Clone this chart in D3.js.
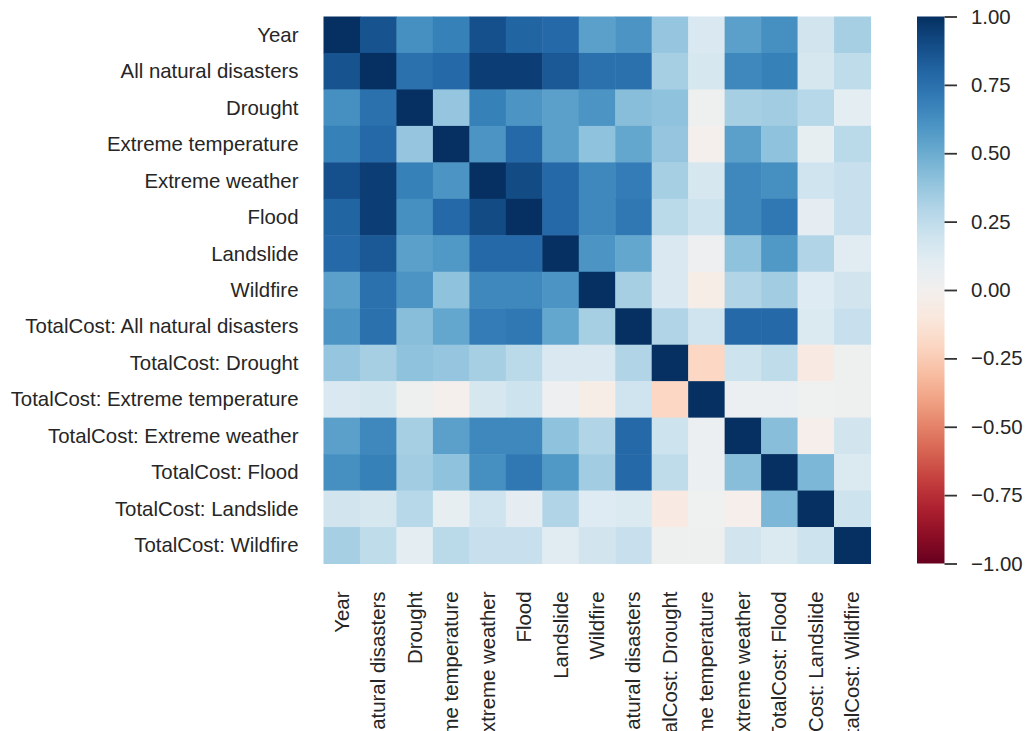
<!DOCTYPE html>
<html>
<head>
<meta charset="utf-8">
<script src="https://cdn.jsdelivr.net/npm/d3@7"></script>
<style>
  body { margin: 0; background: #fff; }
  svg { display: block; }
  text { font-family: "Liberation Sans", Arial, sans-serif; fill: #262626; }
</style>
</head>
<body>
<div id="chart"></div>
<script>
var width = 1028, height = 731;

var labels = ["Year", "All natural disasters", "Drought", "Extreme temperature",
  "Extreme weather", "Flood", "Landslide", "Wildfire", "TotalCost: All natural disasters",
  "TotalCost: Drought", "TotalCost: Extreme temperature", "TotalCost: Extreme weather",
  "TotalCost: Flood", "TotalCost: Landslide", "TotalCost: Wildfire"];

// correlation rows
var rowYear       = [1.00, 0.87, 0.62, 0.68, 0.88, 0.80, 0.78, 0.55, 0.60, 0.38, 0.15, 0.55, 0.62, 0.18, 0.33];
var rowAll        = [0.87, 1.00, 0.75, 0.78, 0.95, 0.95, 0.85, 0.75, 0.75, 0.33, 0.16, 0.65, 0.68, 0.16, 0.25];
var rowDrought    = [0.62, 0.75, 1.00, 0.38, 0.68, 0.60, 0.55, 0.60, 0.42, 0.40, 0.03, 0.33, 0.35, 0.28, 0.10];
var rowTemp       = [0.68, 0.78, 0.38, 1.00, 0.60, 0.78, 0.55, 0.40, 0.52, 0.38, -0.02, 0.55, 0.40, 0.08, 0.27];
var rowWeather    = [0.88, 0.95, 0.68, 0.60, 1.00, 0.90, 0.78, 0.65, 0.70, 0.33, 0.16, 0.65, 0.62, 0.19, 0.22];
var rowFlood      = [0.80, 0.95, 0.62, 0.78, 0.90, 1.00, 0.78, 0.65, 0.72, 0.27, 0.20, 0.65, 0.72, 0.09, 0.22];
var rowLandslide  = [0.78, 0.85, 0.55, 0.58, 0.78, 0.78, 1.00, 0.60, 0.52, 0.15, 0.04, 0.40, 0.58, 0.30, 0.11];
var rowWildfire   = [0.55, 0.75, 0.60, 0.40, 0.65, 0.65, 0.60, 1.00, 0.33, 0.15, -0.05, 0.30, 0.35, 0.12, 0.18];
var rowTcAll      = [0.60, 0.75, 0.42, 0.52, 0.70, 0.72, 0.52, 0.33, 1.00, 0.30, 0.19, 0.78, 0.78, 0.14, 0.22];
var rowTcDrought  = [0.38, 0.33, 0.40, 0.38, 0.33, 0.27, 0.15, 0.15, 0.30, 1.00, -0.20, 0.20, 0.25, -0.08, 0.03];
var rowTcTemp     = [0.15, 0.16, 0.03, -0.02, 0.16, 0.20, 0.04, -0.05, 0.19, -0.20, 1.00, 0.05, 0.05, 0.02, 0.03];
var rowTcWeather  = [0.55, 0.65, 0.33, 0.55, 0.65, 0.65, 0.40, 0.30, 0.78, 0.20, 0.05, 1.00, 0.42, -0.03, 0.18];
var rowTcFlood    = [0.62, 0.68, 0.35, 0.40, 0.62, 0.72, 0.58, 0.35, 0.78, 0.25, 0.05, 0.42, 1.00, 0.45, 0.14];
var rowTcLandslide= [0.18, 0.16, 0.28, 0.08, 0.19, 0.09, 0.30, 0.12, 0.14, -0.08, 0.02, -0.03, 0.45, 1.00, 0.20];
var rowTcWildfire = [0.33, 0.25, 0.10, 0.27, 0.22, 0.22, 0.11, 0.18, 0.22, 0.03, 0.03, 0.18, 0.14, 0.20, 1.00];

var matrix = [rowYear, rowAll, rowDrought, rowTemp, rowWeather, rowFlood, rowLandslide,
  rowWildfire, rowTcAll, rowTcDrought, rowTcTemp, rowTcWeather, rowTcFlood, rowTcLandslide, rowTcWildfire];

var cbarTicks = [1, 0.75, 0.5, 0.25, 0, -0.25, -0.5, -0.75, -1];

var hm = { left: 323.5, top: 16.5, size: 547 };
var fontSize = "20.4px";

var svg = d3.select("#chart")
  .append("svg")
  .attr("width", width)
  .attr("height", height);

var x = d3.scaleBand().domain(labels).range([hm.left, hm.left + hm.size]);
var y = d3.scaleBand().domain(labels).range([hm.top, hm.top + hm.size]);

var color = d3.scaleSequential(t => d3.interpolateRdBu(t)).domain([-1, 1]);

// flatten the matrix into cells
var cells = [];
matrix.forEach((row, i) => {
  row.forEach((v, j) => {
    cells.push({ row: labels[i], col: labels[j], value: v });
  });
});

svg.append("g")
  .selectAll("rect")
  .data(cells)
  .enter()
  .append("rect")
  .attr("x", d => x(d.col))
  .attr("y", d => y(d.row))
  .attr("width", x.bandwidth() + 0.5)
  .attr("height", y.bandwidth() + 0.5)
  .attr("fill", d => color(d.value));

// y tick labels
svg.append("g")
  .selectAll("text")
  .data(labels)
  .enter()
  .append("text")
  .attr("x", hm.left - 25)
  .attr("y", d => y(d) + y.bandwidth() / 2)
  .attr("text-anchor", "end")
  .attr("dominant-baseline", "central")
  .style("font-size", fontSize)
  .text(d => d);

// x tick labels, rotated (long ones run off the bottom, as in the original)
svg.append("g")
  .selectAll("text")
  .data(labels)
  .enter()
  .append("text")
  .attr("transform", d => "translate(" + (x(d) + x.bandwidth() / 2) + "," + (hm.top + hm.size + 28) + ") rotate(-90)")
  .attr("text-anchor", "end")
  .attr("dominant-baseline", "central")
  .style("font-size", fontSize)
  .text(d => d);

// colorbar
var cb = { left: 917, width: 27.5 };
var cbScale = d3.scaleLinear().domain([1, -1]).range([hm.top, hm.top + hm.size]);

var defs = svg.append("defs");
var grad = defs.append("linearGradient")
  .attr("id", "cbar")
  .attr("x1", "0").attr("y1", "1")
  .attr("x2", "0").attr("y2", "0");
d3.range(0, 1.0001, 0.05).forEach(t => {
  grad.append("stop")
    .attr("offset", t)
    .attr("stop-color", d3.interpolateRdBu(t));
});

svg.append("rect")
  .attr("x", cb.left)
  .attr("y", hm.top)
  .attr("width", cb.width)
  .attr("height", hm.size)
  .attr("fill", "url(#cbar)");

var cbAxis = d3.axisRight(cbScale)
  .tickValues(cbarTicks)
  .tickSize(12.5)
  .tickPadding(14)
  .tickFormat(d => d3.format(".2f")(d).replace("-", "\u2212"));

var cbG = svg.append("g")
  .attr("transform", "translate(" + (cb.left + cb.width) + ",0)")
  .call(cbAxis);

cbG.select(".domain").remove();
cbG.selectAll(".tick line").attr("stroke", "#333").attr("stroke-width", 1.8);
cbG.selectAll(".tick text")
  .style("font-size", fontSize)
  .style("font-family", "\"Liberation Sans\", Arial, sans-serif")
  .attr("fill", "#262626");
</script>
</body>
</html>
